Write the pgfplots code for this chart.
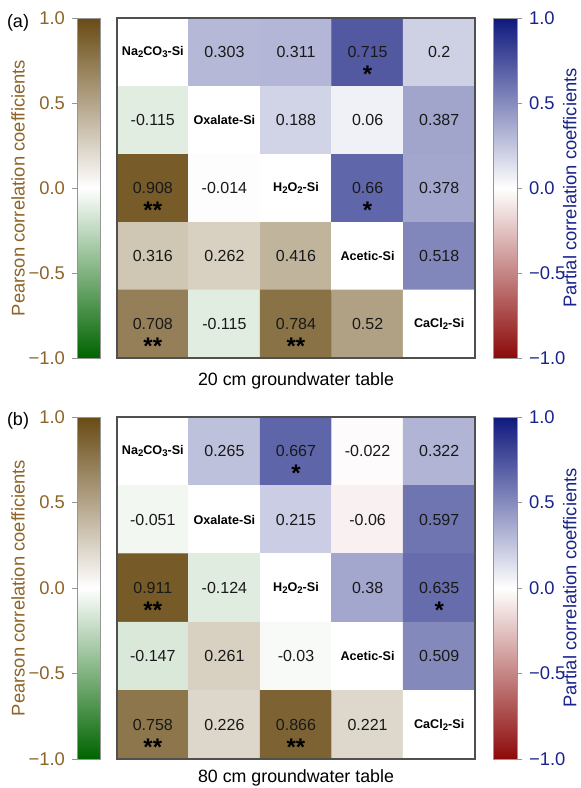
\documentclass[border=0pt]{standalone}
\usepackage{fontspec}
\setmainfont{Liberation Sans}
\usepackage{pgfplots}
\usepackage{pgfplotstable}
\pgfplotsset{compat=1.18}
\usepgfplotslibrary{patchplots}
\definecolor{pbrown}{RGB}{140,100,40}
\definecolor{pblue}{RGB}{25,35,140}
\definecolor{framegray}{RGB}{80,80,80}
\definecolor{cbgray}{RGB}{150,150,150}
\newcommand\numfont{\fontsize{8}{9}\selectfont}
\newcommand\diagfont{\fontsize{6.3}{7}\selectfont\bfseries}
\newcommand\tickfont{\fontsize{9.2}{10}\selectfont}
\newcommand\labfont{\fontsize{9.2}{11}\selectfont}
\newcommand\starfont{\fontsize{12}{12}\selectfont\bfseries}
\newcommand\sub[1]{\raisebox{-0.3ex}{\fontsize{4.8}{5}\selectfont #1}}
\pgfplotsset{
 colormap={pearson}{rgb255=(0,100,0) rgb255=(255,255,255) rgb255=(105,75,20)},
 colormap={partial}{rgb255=(140,10,10) rgb255=(255,255,255) rgb255=(15,25,125)},
 colormap={mixed}{rgb255=(0,100,0) rgb255=(255,255,255) rgb255=(105,75,20) rgb255=(140,10,10) rgb255=(255,255,255) rgb255=(15,25,125)},
 heat/.style={scale only axis, width=179pt, xmin=-0.5, xmax=4.5, ymin=-0.5, ymax=4.5,
   y dir=reverse, xtick=\empty, ytick=\empty, axis on top,
   axis line style={draw=framegray, line width=0.8pt}, colormap name=mixed,
   point meta min=-1, point meta max=4, anchor=south west},
 cbar/.style={scale only axis, xmin=0, xmax=1, ymin=-1, ymax=1, xtick=\empty,
   ytick={-1,-0.5,0,0.5,1}, yticklabels={−1.0,−0.5,0.0,0.5,1.0},
   tick align=outside, major tick length=2.5pt,
   tick style={draw=cbgray, line width=0.4pt},
   axis line style={draw=cbgray, line width=0.4pt},
   yticklabel style={font=\tickfont}, ylabel style={font=\labfont},
   anchor=south west, axis on top, point meta min=-1, point meta max=1},
 lcbar/.style={cbar, width=11.5pt, ytick pos=left, yticklabel pos=left,
   colormap name=pearson, yticklabel style={text=pbrown},
   ylabel={Pearson correlation coefficients},
   ylabel style={text=pbrown, at={(axis description cs:-2.56,0.5)}, anchor=center}},
 rcbar/.style={cbar, width=12pt, ytick pos=right, yticklabel pos=right,
   colormap name=partial, yticklabel style={text=pblue},
   ylabel={Partial correlation coefficients},
   ylabel style={text=pblue, at={(axis description cs:3.2,0.5)}, anchor=center}},
 numplot/.style={draw=none, mark=none, nodes near coords, point meta=explicit symbolic,
   every node near coord/.style={anchor=center, font=\numfont, text=black!90}},
 starplot/.style={draw=none, mark=none, nodes near coords, point meta=explicit symbolic,
   every node near coord/.style={anchor=center, font=\starfont, text=black, inner sep=0pt, yshift=-11pt}},
}
% t = 0: Pearson (lower triangle / diagonal), t = 1: partial (upper triangle)
\pgfplotstableread{
x y v t lab star
0 0 0 0 {} {}
1 0 0.303 1 0.303 {}
2 0 0.311 1 0.311 {}
3 0 0.715 1 0.715 *
4 0 0.2 1 0.2 {}
0 1 -0.115 0 -0.115 {}
1 1 0 0 {} {}
2 1 0.188 1 0.188 {}
3 1 0.06 1 0.06 {}
4 1 0.387 1 0.387 {}
0 2 0.908 0 0.908 **
1 2 -0.014 0 -0.014 {}
2 2 0 0 {} {}
3 2 0.66 1 0.66 *
4 2 0.378 1 0.378 {}
0 3 0.316 0 0.316 {}
1 3 0.262 0 0.262 {}
2 3 0.416 0 0.416 {}
3 3 0 0 {} {}
4 3 0.518 1 0.518 {}
0 4 0.708 0 0.708 **
1 4 -0.115 0 -0.115 {}
2 4 0.784 0 0.784 **
3 4 0.52 0 0.52 {}
4 4 0 0 {} {}
}\tabA
\pgfplotstableread{
x y v t lab star
0 0 0 0 {} {}
1 0 0.265 1 0.265 {}
2 0 0.667 1 0.667 *
3 0 -0.022 1 -0.022 {}
4 0 0.322 1 0.322 {}
0 1 -0.051 0 -0.051 {}
1 1 0 0 {} {}
2 1 0.215 1 0.215 {}
3 1 -0.06 1 -0.06 {}
4 1 0.597 1 0.597 {}
0 2 0.911 0 0.911 **
1 2 -0.124 0 -0.124 {}
2 2 0 0 {} {}
3 2 0.38 1 0.38 {}
4 2 0.635 1 0.635 *
0 3 -0.147 0 -0.147 {}
1 3 0.261 0 0.261 {}
2 3 -0.03 0 -0.03 {}
3 3 0 0 {} {}
4 3 0.509 1 0.509 {}
0 4 0.758 0 0.758 **
1 4 0.226 0 0.226 {}
2 4 0.866 0 0.866 **
3 4 0.221 0 0.221 {}
4 4 0 0 {} {}
}\tabB
\begin{document}
\begin{tikzpicture}
\useasboundingbox (0,0) rectangle (290pt,394pt);
% ---------- panel (a) ----------
\begin{axis}[heat, at={(58.5pt,215pt)}, height=170pt]
\addplot[matrix plot*, mesh/cols=5, point meta={\thisrow{v}+3*\thisrow{t}}] table[x=x,y=y] {\tabA};
\addplot[numplot] table[x=x,y=y,meta=lab] {\tabA};
\addplot[starplot] table[x=x,y=y,meta=star] {\tabA};
\node[font=\diagfont] at (axis cs:0,0) {Na\sub{2}CO\sub{3}-Si};
\node[font=\diagfont] at (axis cs:1,1) {Oxalate-Si};
\node[font=\diagfont] at (axis cs:2,2) {H\sub{2}O\sub{2}-Si};
\node[font=\diagfont] at (axis cs:3,3) {Acetic-Si};
\node[font=\diagfont] at (axis cs:4,4) {CaCl\sub{2}-Si};
\end{axis}
\begin{axis}[lcbar, at={(38.5pt,215pt)}, height=170pt]
\addplot[patch, patch type=rectangle, shader=interp, point meta=y] coordinates {
(0,-1) (1,-1) (1,-0.5) (0,-0.5)
(0,-0.5) (1,-0.5) (1,0) (0,0)
(0,0) (1,0) (1,0.5) (0,0.5)
(0,0.5) (1,0.5) (1,1) (0,1)};
\end{axis}
\begin{axis}[rcbar, at={(246.5pt,215pt)}, height=170pt]
\addplot[patch, patch type=rectangle, shader=interp, point meta=y] coordinates {
(0,-1) (1,-1) (1,-0.5) (0,-0.5)
(0,-0.5) (1,-0.5) (1,0) (0,0)
(0,0) (1,0) (1,0.5) (0,0.5)
(0,0.5) (1,0.5) (1,1) (0,1)};
\end{axis}
\node[font=\fontsize{8.9}{10}\selectfont] at (148pt,203.5pt) {20 cm groundwater table};
\node[font=\fontsize{9}{10}\selectfont] at (9pt,382.8pt) {(a)};
% ---------- panel (b) ----------
\begin{axis}[heat, at={(58.5pt,14.5pt)}, height=171pt]
\addplot[matrix plot*, mesh/cols=5, point meta={\thisrow{v}+3*\thisrow{t}}] table[x=x,y=y] {\tabB};
\addplot[numplot] table[x=x,y=y,meta=lab] {\tabB};
\addplot[starplot] table[x=x,y=y,meta=star] {\tabB};
\node[font=\diagfont] at (axis cs:0,0) {Na\sub{2}CO\sub{3}-Si};
\node[font=\diagfont] at (axis cs:1,1) {Oxalate-Si};
\node[font=\diagfont] at (axis cs:2,2) {H\sub{2}O\sub{2}-Si};
\node[font=\diagfont] at (axis cs:3,3) {Acetic-Si};
\node[font=\diagfont] at (axis cs:4,4) {CaCl\sub{2}-Si};
\end{axis}
\begin{axis}[lcbar, at={(38.5pt,14.5pt)}, height=171pt]
\addplot[patch, patch type=rectangle, shader=interp, point meta=y] coordinates {
(0,-1) (1,-1) (1,-0.5) (0,-0.5)
(0,-0.5) (1,-0.5) (1,0) (0,0)
(0,0) (1,0) (1,0.5) (0,0.5)
(0,0.5) (1,0.5) (1,1) (0,1)};
\end{axis}
\begin{axis}[rcbar, at={(246.5pt,14.5pt)}, height=171pt]
\addplot[patch, patch type=rectangle, shader=interp, point meta=y] coordinates {
(0,-1) (1,-1) (1,-0.5) (0,-0.5)
(0,-0.5) (1,-0.5) (1,0) (0,0)
(0,0) (1,0) (1,0.5) (0,0.5)
(0,0.5) (1,0.5) (1,1) (0,1)};
\end{axis}
\node[font=\fontsize{8.9}{10}\selectfont] at (148pt,5pt) {80 cm groundwater table};
\node[font=\fontsize{9}{10}\selectfont] at (9pt,183.5pt) {(b)};
\end{tikzpicture}
\end{document}
